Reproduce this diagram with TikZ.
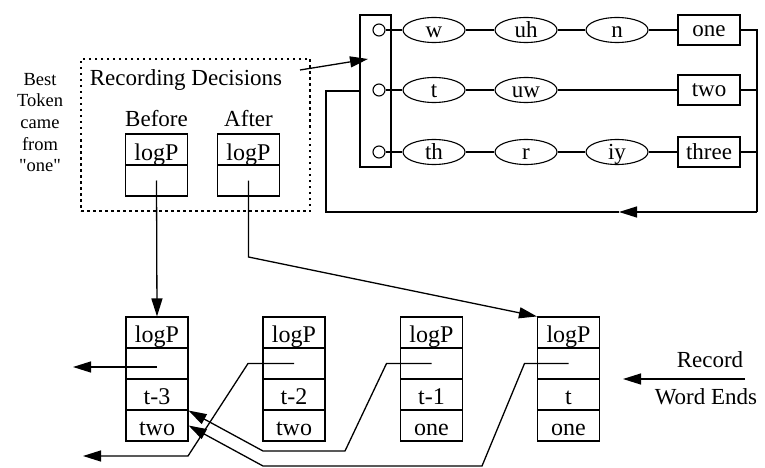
\documentclass[tikz,border=0pt]{standalone}
\usepackage{fontspec}
\setmainfont{Liberation Serif}
\newfontfamily\plainserif{Liberation Serif}
\usetikzlibrary{arrows.meta, shapes.geometric}

\tikzset{
  cell/.style={draw, line width=1.1pt, minimum width=62pt, minimum height=31pt, inner sep=0pt,
    text height=20pt, text depth=0pt, font=\fontsize{24}{26}\selectfont},
  phone/.style={draw, ellipse, line width=1.1pt, minimum width=62pt, minimum height=25pt, inner sep=0pt,
    text height=15pt, text depth=0pt, font=\fontsize{23}{25}\selectfont},
  wordbox/.style={draw, line width=1.1pt, minimum width=62pt, minimum height=30pt, inner sep=0pt,
    text height=14pt, text depth=0pt, font=\fontsize{23}{25}\selectfont},
  lbl/.style={inner sep=0pt, anchor=base, font=\fontsize{23}{26}\selectfont},
  link/.style={line width=1.3pt},
  tip/.style={link, arrows={-Triangle[length=18pt, width=11pt]}},
}

\begin{document}
\begin{tikzpicture}[x=1pt, y=-1pt]
	\useasboundingbox (0,0) rectangle (765,468);

	% lexicon network
	\node[draw, line width=1.1pt, minimum width=31pt, minimum height=152pt] (lex) at (375.5,91) {};
	\foreach \k/\y in {a/30, b/90, c/152}
		\node[draw, circle, line width=1.1pt, minimum size=12pt, inner sep=0pt] (o\k) at (379,\y) {};
	\node[phone] (pw) at (434,30) {w};
	\node[phone] (puh) at (526,30) {uh};
	\node[phone] (pn) at (617,30) {n};
	\node[wordbox] (one) at (709,30) {one};
	\node[phone] (pt) at (434,90) {t};
	\node[phone] (puw) at (526,90) {uw};
	\node[wordbox] (two) at (709,90) {two};
	\node[phone] (pth) at (434,152) {th};
	\node[phone] (pr) at (526,152) {r};
	\node[phone] (piy) at (617,152) {iy};
	\node[wordbox] (three) at (709,152) {three};
	\draw[link] (oa) -- (pw) -- (puh) -- (pn) -- (one);
	\draw[link] (ob) -- (pt) -- (puw) -- (two);
	\draw[link] (oc) -- (pth) -- (pr) -- (piy) -- (three);

	% return loop
	\coordinate (ret) at (757,212);
	\coordinate (retmid) at (619,212);
	\draw[link] (one.east) -| (ret);
	\draw[link] (two.east) -- (two.east -| ret);
	\draw[link] (three.east) -- (three.east -| ret);
	\draw[tip] (ret) -- (retmid);
	\draw[link] (retmid) -- (326,212) |- (lex.west);

	% recording decisions
	\node[draw, line width=1.3pt, dash pattern=on 2.5pt off 3.5pt, minimum width=229pt, minimum height=152pt] (dec) at (195.5,135) {};
	\node[lbl] (rec) at (186,86) {Recording Decisions};
	\node[lbl] (bef) at (156.5,127) {Before};
	\node[lbl] (aft) at (248.5,127) {After};
	\node[cell, text height=21pt] (bp) at (156.5,149.5) {logP};
	\node[cell] (bb) at (156.5,180.5) {};
	\node[cell, text height=21pt] (ap) at (248.5,149.5) {logP};
	\node[cell] (ab) at (248.5,180.5) {};
	\coordinate (decout) at (300,70);
	\coordinate (lexin) at (368,59);
	\draw[tip] (decout) -- (lexin);

	\node[align=center, inner sep=0pt, font=\plainserif\fontsize{18.5}{21.7}\selectfont] (best) at (40,122.5) {Best\\Token\\came\\from\\"one"};

	% word end records
	\foreach \i/\x/\tm/\wrd in {1/157/t-3/two, 2/294/t-2/two, 3/431.5/t-1/one, 4/568.5/t/one} {
		\node[cell] (lp\i) at (\x,332.5) {logP};
		\node[cell] (bk\i) at (\x,363.5) {};
		\node[cell] (tm\i) at (\x,394.5) {\tm};
		\node[cell] (wd\i) at (\x,425.5) {\wrd};
	}
	\draw[tip] (bb.center) -- (lp1.north);
	\draw[tip] (ab.center) -- ++(0,76.5) -- (lp4.north west);

	\coordinate (outa) at (73,367);
	\coordinate (outb) at (83,456);
	\draw[tip] (bk1.center |- outa) -- (outa);
	\draw[tip] (bk2.center) -- ++(-46,0) -- (188,456) -- (outb);
	\draw[tip] (bk3.center) -- ++(-45,0) -- (345,451) -- (263,451) -- (tm1.south east);
	\draw[tip] (bk4.center) -- ++(-44,0) -- (482,466) -- (263,466) -- (wd1.east);

	\node[lbl] (recd) at (710,367) {Record};
	\node[lbl] (wends) at (706,404) {Word Ends};
	\coordinate (rwa) at (745,379);
	\coordinate (rwb) at (623,379);
	\draw[tip] (rwa) -- (rwb);
\end{tikzpicture}
\end{document}
